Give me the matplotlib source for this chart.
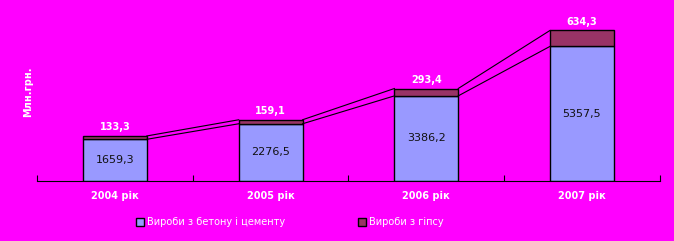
import numpy as np
import matplotlib.pyplot as plt
from matplotlib.patches import Patch

# дані
years = ['2004 рік', '2005 рік', '2006 рік', '2007 рік']
beton = [1659.3, 2276.5, 3386.2, 5357.5]
gips = [133.3, 159.1, 293.4, 634.3]
beton_lbl = ['1659,3', '2276,5', '3386,2', '5357,5']
gips_lbl = ['133,3', '159,1', '293,4', '634,3']

bg = '#FF00FF'
c_beton = '#9999FF'
c_gips = '#993366'

fig = plt.figure(figsize=(6.74, 2.41), dpi=100, facecolor=bg)
ax = fig.add_axes([0.055, 0.249, 0.924, 0.73], facecolor=bg)

x = np.arange(len(years))
w = 0.41
ax.bar(x, beton, w, color=c_beton, edgecolor='black', linewidth=1)
ax.bar(x, gips, w, bottom=beton, color=c_gips, edgecolor='black', linewidth=1)

# лінії між стовпцями
top1 = np.array(beton)
top2 = top1 + np.array(gips)
for i in range(len(x) - 1):
    ax.plot([x[i] + w/2, x[i+1] - w/2], [top1[i], top1[i+1]], color='black', lw=0.8)
    ax.plot([x[i] + w/2, x[i+1] - w/2], [top2[i], top2[i+1]], color='black', lw=0.8)

# підписи
for i in range(len(x)):
    ax.text(x[i], beton[i] / 2, beton_lbl[i], ha='center', va='center',
            fontsize=8, color='#111111')
    ax.text(x[i], top2[i] + 150, gips_lbl[i], ha='center', va='bottom',
            fontsize=7, color='white', fontweight='bold')

ax.set_xlim(-0.5, 3.5)
ax.set_ylim(0, 7000)
ax.set_xticks(np.arange(-0.5, 3.6, 1))
ax.set_xticklabels([])
ax.tick_params(axis='x', length=4, color='black', direction='in')
for i in range(len(x)):
    ax.text(x[i], -0.055, years[i], transform=ax.get_xaxis_transform(),
            ha='center', va='top', fontsize=7, color='white', fontweight='bold')
ax.set_yticks([])
for s in ['top', 'right', 'left']:
    ax.spines[s].set_visible(False)
ax.spines['bottom'].set_color('black')

fig.text(0.041, 0.62, 'Млн.грн.', rotation=90, ha='center', va='center',
         fontsize=7, color='white', fontweight='bold')

handles = [Patch(facecolor=c_beton, edgecolor='black', label='Вироби з бетону і цементу'),
           Patch(facecolor=c_gips, edgecolor='black', label='Вироби з гіпсу')]
leg = fig.legend(handles=handles, loc='center', bbox_to_anchor=(0.43, 0.077), ncol=2,
                 frameon=False, fontsize=7, handlelength=0.8, handleheight=0.8,
                 handletextpad=0.3, columnspacing=7.5)
for t in leg.get_texts():
    t.set_color('white')

fig.savefig('out.png', dpi=100, facecolor=bg)
